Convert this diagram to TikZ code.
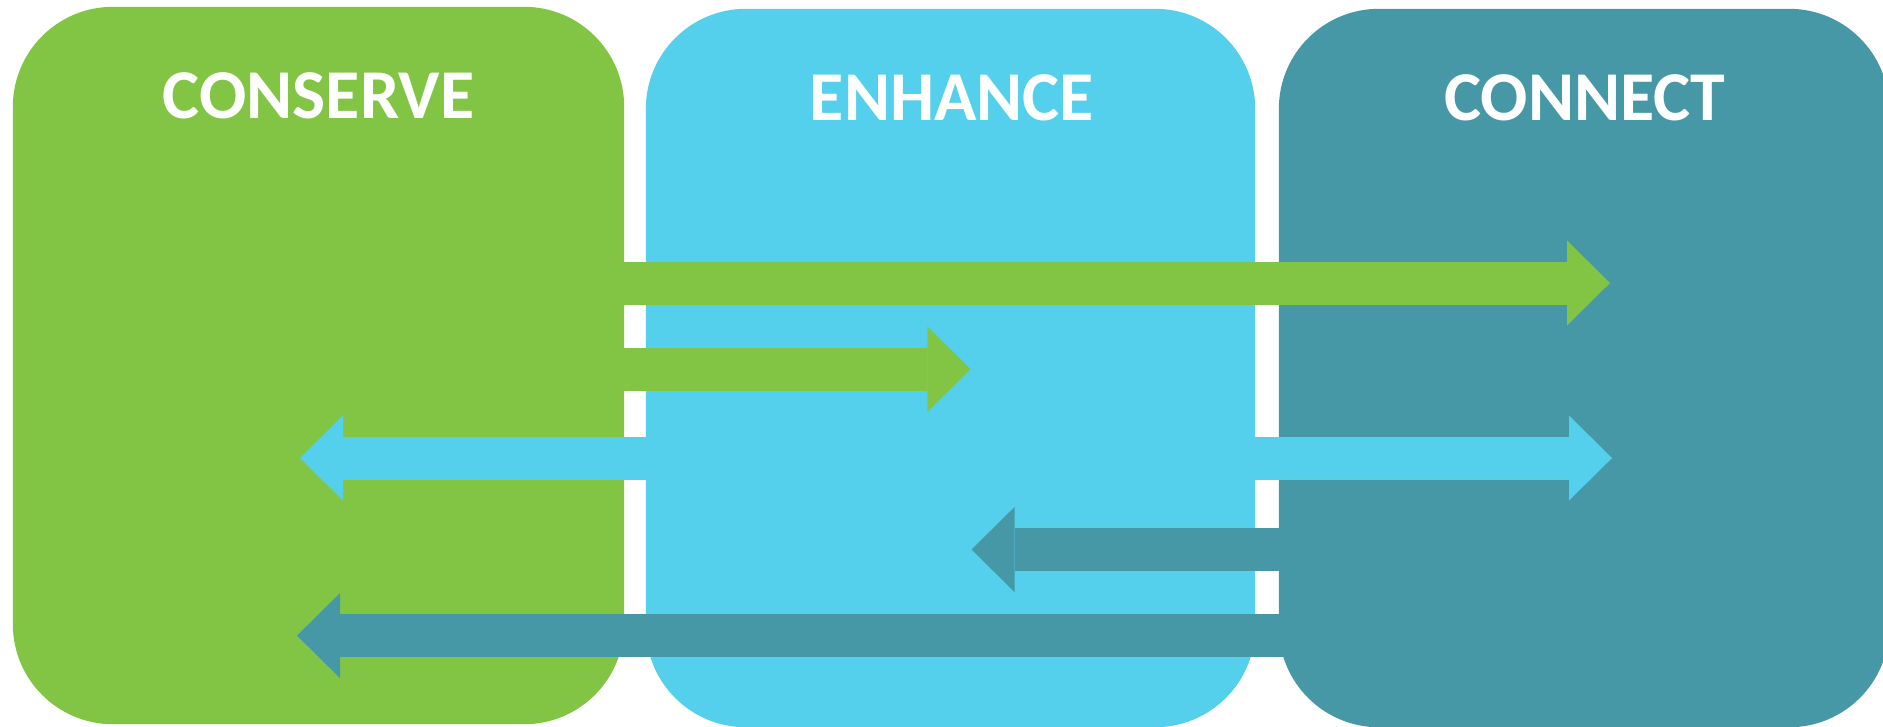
\documentclass[tikz,border=0pt]{standalone}
\usepackage{fontspec}
\setmainfont{Carlito}
\usetikzlibrary{arrows.meta}
\definecolor{cgreen}{RGB}{130,197,69}
\definecolor{cblue}{RGB}{84,208,236}
\definecolor{cteal}{RGB}{70,152,167}
\tikzset{
  panel/.style={rectangle, rounded corners=1cm, draw=none, inner sep=0pt, outer sep=0pt},
  paneltitle/.style={anchor=base, text=white, inner sep=0pt,
    font=\fontsize{19.9}{24}\selectfont\bfseries},
  blockarrow/.style={line width=0.43cm, line cap=butt,
    -{Triangle[width=0.85cm,length=0.43cm,line width=0pt]}},
}
\begin{document}
\begin{tikzpicture}[x=0.01cm,y=-0.01cm]
\clip (0,0) rectangle (1883,726);
\fill[white] (0,0) rectangle (1883,726);
% panels
\node[panel, fill=cgreen, minimum width=6.11cm, minimum height=7.17cm] (conserve) at (318.5,365.5) {};
\node[panel, fill=cblue,  minimum width=6.09cm, minimum height=7.18cm] (enhance)  at (950.5,368) {};
\node[panel, fill=cteal,  minimum width=6.10cm, minimum height=7.18cm] (connect)  at (1584,368) {};
% titles
\node[paneltitle] (tconserve) at (318.5,118.5) {CONSERVE};
\node[paneltitle] (tenhance)  at (952,120.4) {ENHANCE};
\node[paneltitle] (tconnect)  at (1585,120.4) {CONNECT};
% arrow tips
\coordinate (gonetip) at (1610,283);
\coordinate (gtwotip) at (970.5,369);
\coordinate (bltip) at (300,458);
\coordinate (brtip) at (1612,458);
\coordinate (tshorttip) at (971.5,549.5);
\coordinate (tlongtip) at (297,635.6);
% arrows
\draw[blockarrow, cgreen] (conserve.center |- gonetip) -- (gonetip);
\draw[blockarrow, cgreen] (conserve.center |- gtwotip) -- (gtwotip);
\draw[blockarrow, cblue] (enhance.center |- bltip) -- (bltip);
\draw[blockarrow, cblue] (enhance.center |- brtip) -- (brtip);
\draw[blockarrow, cteal] (connect.center |- tshorttip) -- (tshorttip);
\draw[blockarrow, cteal] (connect.center |- tlongtip) -- (tlongtip);
\end{tikzpicture}
\end{document}
